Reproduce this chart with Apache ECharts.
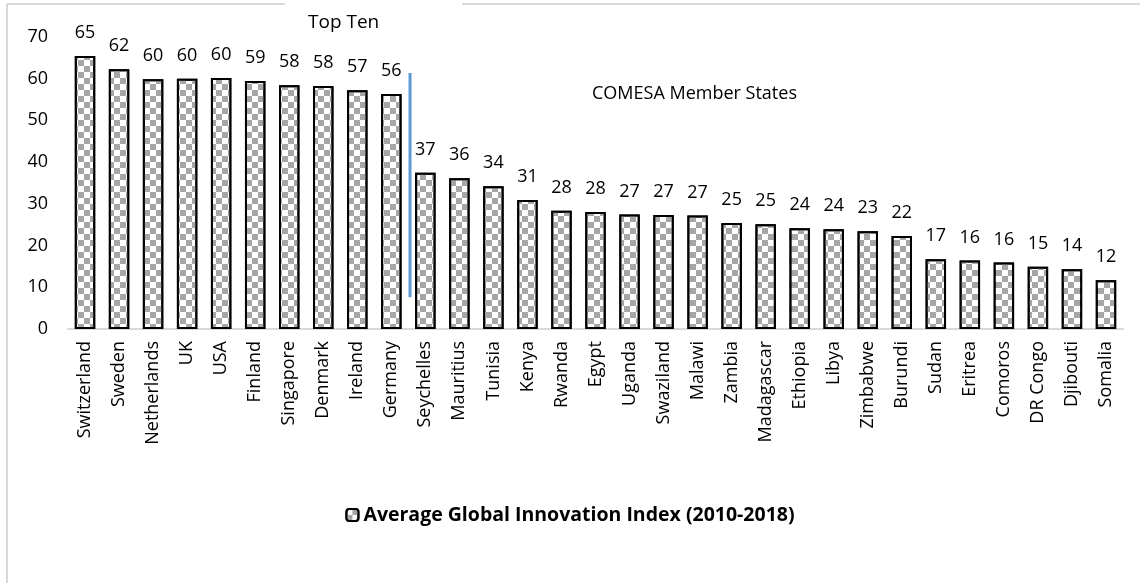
<!DOCTYPE html>
<html>
<head>
<meta charset="utf-8">
<script src="https://cdn.jsdelivr.net/npm/echarts@6/dist/echarts.min.js"></script>
<style>html,body{margin:0;padding:0;background:#fff;}#c{width:1140px;height:583px;}</style>
</head>
<body>
<div id="c"></div>
<script>
const categories = ["Switzerland","Sweden","Netherlands","UK","USA","Finland","Singapore","Denmark","Ireland","Germany",
  "Seychelles","Mauritius","Tunisia","Kenya","Rwanda","Egypt","Uganda","Swaziland","Malawi","Zambia","Madagascar",
  "Ethiopia","Libya","Zimbabwe","Burundi","Sudan","Eritrea","Comoros","DR Congo","Djibouti","Somalia"];
const giiValues = [65.4,62.2,59.8,59.9,60.1,59.4,58.4,58.2,57.2,56.3,
  37.4,36.1,34.2,30.9,28.3,28.0,27.4,27.3,27.2,25.4,25.1,
  24.1,23.9,23.4,22.3,16.7,16.4,15.9,14.9,14.3,11.7];
const seriesName = "Average Global Innovation Index (2010-2018)";
const yTicks = [0,10,20,30,40,50,60,70];
const dividerLine = [[9.55, 61.3],[9.55, 7.6]];
const annotations = ["Top Ten", "COMESA Member States"];

const FONT = "Open Sans";
const chart = echarts.init(document.getElementById('c'), null, {renderer:'canvas'});
chart.setOption({
  backgroundColor:'#fff',
  animation:false,
  textStyle:{fontFamily:FONT, color:'#000'},
  grid:{left:68, right:17, top:36.7, bottom:254, containLabel:false},
  legend:{
    data:[seriesName], bottom:53, left:'center',
    itemWidth:12, itemHeight:12, itemGap:4,
    textStyle:{fontFamily:FONT, fontSize:19.5, fontWeight:'bold', color:'#000'}
  },
  xAxis:[{
    type:'category', data:categories,
    axisLine:{lineStyle:{color:'#d9d9d9', width:2}},
    axisTick:{show:false},
    axisLabel:{interval:0, rotate:90, margin:12, fontFamily:FONT, fontSize:18, color:'#000'}
  },{
    type:'value', min:-0.5, max:30.5, show:false
  }],
  yAxis:{
    type:'value', min:yTicks[0], max:yTicks[yTicks.length-1], interval:10,
    splitLine:{show:false}, axisLine:{show:false}, axisTick:{show:false},
    axisLabel:{margin:20, fontFamily:FONT, fontSize:18, color:'#000'}
  },
  series:[{
    name:seriesName, type:'bar', data:giiValues, barWidth:'60%',
    itemStyle:{color:'#fff', borderColor:'#000', borderWidth:2,
      decal:{symbol:'rect', symbolSize:1, color:'#a6a6a6',
        dashArrayX:[[6,6],[0,6,6,0]], dashArrayY:[6,0], rotation:0}},
    label:{show:true, position:'top', distance:14, fontFamily:FONT, fontSize:18, color:'#000',
      formatter:p=>Math.round(p.value)}
  },{
    name:'divider', type:'line', xAxisIndex:1, data:dividerLine,
    symbol:'none', lineStyle:{color:'#5b9bd5', width:3}, silent:true
  }],
  graphic:[
    {type:'line', shape:{x1:7,y1:4,x2:285,y2:4}, style:{stroke:'#d9d9d9', lineWidth:2}},
    {type:'line', shape:{x1:462,y1:4,x2:1140,y2:4}, style:{stroke:'#d9d9d9', lineWidth:2}},
    {type:'line', shape:{x1:7,y1:4,x2:7,y2:583}, style:{stroke:'#d9d9d9', lineWidth:2}},
    {type:'text', left:308, top:13, style:{text:annotations[0], font:'19px "Open Sans"', fill:'#000'}},
    {type:'text', left:592, top:85, style:{text:annotations[1], font:'18px "Open Sans"', fill:'#000'}}
  ]
});
</script>
</body>
</html>
